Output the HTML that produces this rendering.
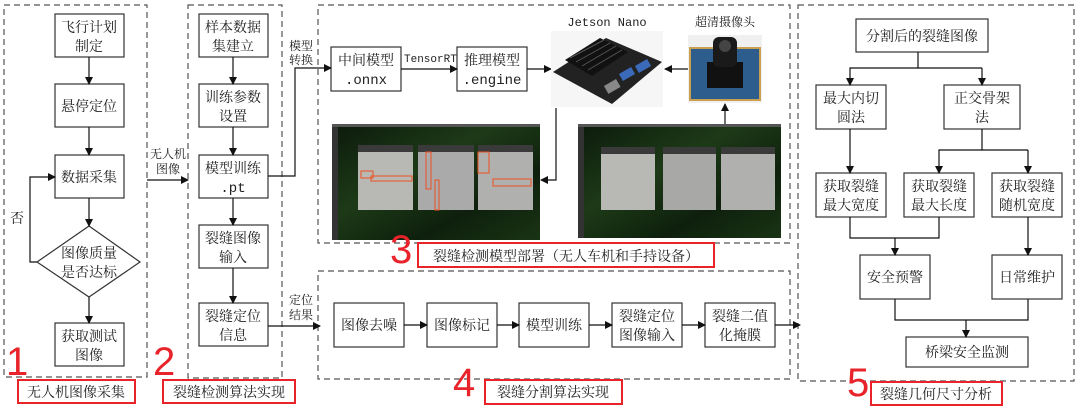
<!DOCTYPE html>
<html><head><meta charset="utf-8"><style>
body{margin:0;background:#fff}
svg{display:block}
text{font-family:"Liberation Serif","Noto Serif CJK SC","Noto Sans CJK SC",serif;font-size:14px;fill:#222}
.m{font-family:"Liberation Mono","Noto Sans CJK SC",monospace}
.r{fill:#e8232a;font-family:"Liberation Sans",sans-serif;font-size:40px}
</style></head><body>
<svg width="1080" height="410" viewBox="0 0 1080 410" xmlns="http://www.w3.org/2000/svg">
<defs><marker id="a" markerWidth="8" markerHeight="8" refX="7" refY="4" orient="auto" markerUnits="userSpaceOnUse"><path d="M0,0 L8,4 L0,8 z" fill="#111"/></marker>
<linearGradient id="g" x1="0" y1="0" x2="1" y2="1"><stop offset="0" stop-color="#0c1a0c"/><stop offset="0.4" stop-color="#1d3a17"/><stop offset="0.7" stop-color="#0e200d"/><stop offset="1" stop-color="#1a3314"/></linearGradient></defs>
<g fill="none" stroke="#555" stroke-width="1.2" stroke-dasharray="6,4">
<rect x="4" y="5" width="143" height="372"/>
<rect x="188" y="5" width="94" height="373"/>
<rect x="318" y="5" width="472" height="238"/>
<rect x="318" y="271" width="472" height="108"/>
<rect x="798" y="5" width="276" height="376"/>
</g>
<g fill="#fff" stroke="#333" stroke-width="1.2">
<rect x="55" y="14" width="69" height="43"/><rect x="55" y="84" width="69" height="43"/><rect x="55" y="155" width="69" height="43"/>
<polygon points="89,226 140,262 89,297 37,262"/><rect x="55" y="323" width="69" height="43"/>
<rect x="199" y="14" width="69" height="43"/><rect x="199" y="84" width="69" height="43"/><rect x="199" y="155" width="69" height="43"/><rect x="199" y="225" width="69" height="43"/><rect x="199" y="303" width="69" height="43"/>
<rect x="331" y="47" width="70" height="44"/><rect x="457" y="47" width="70" height="44"/>
<rect x="334" y="303" width="70" height="44"/><rect x="427" y="303" width="70" height="44"/><rect x="519" y="303" width="70" height="44"/><rect x="612" y="303" width="70" height="44"/><rect x="705" y="303" width="70" height="44"/>
<rect x="856" y="19" width="132" height="33"/><rect x="816" y="85" width="70" height="44"/><rect x="944" y="85" width="76" height="44"/>
<rect x="816" y="173" width="70" height="44"/><rect x="904" y="173" width="70" height="44"/><rect x="992" y="173" width="70" height="44"/>
<rect x="860" y="255" width="70" height="44"/><rect x="992" y="255" width="70" height="44"/><rect x="906" y="337" width="122" height="30"/>
</g>
<g fill="none" stroke="#e8232a" stroke-width="2">
<rect x="18" y="380" width="117" height="23"/><rect x="163" y="380" width="132" height="23"/><rect x="418" y="243" width="296" height="24"/><rect x="485" y="380" width="137" height="24"/><rect x="871" y="382" width="131" height="23"/>
</g>
<g fill="none" stroke="#111" stroke-width="1.2">
<path d="M850,217V238H939V217"/><path d="M895,299V320H1028V299"/><path d="M918,52V68H982"/><path d="M982,129V150H1028"/>
</g>
<g fill="none" stroke="#111" stroke-width="1.2" marker-end="url(#a)">
<path d="M89,57V84"/><path d="M89,127V155"/><path d="M89,198V226"/><path d="M89,297V323"/><path d="M37,262H30V177H55"/>
<path d="M233,57V84"/><path d="M233,127V155"/><path d="M233,198V225"/><path d="M233,268V303"/>
<path d="M147,180H188"/><path d="M268,176H295V68H331"/><path d="M268,326H320"/>
<path d="M401,69H457"/><path d="M527,69H551"/><path d="M688,69H665"/><path d="M556,108V180H541"/><path d="M725,124V104"/>
<path d="M404,325H427"/><path d="M497,325H519"/><path d="M589,325H612"/><path d="M682,325H705"/><path d="M775,325H800"/>
<path d="M918,68H850V85"/><path d="M982,68V85"/><path d="M850,129V173"/><path d="M982,150H939V173"/><path d="M1028,150V173"/>
<path d="M895,238V255"/><path d="M1028,217V255"/><path d="M966,320V337"/>
</g>
<!-- Jetson -->
<rect x="551" y="31" width="112" height="76" fill="#f6f6f6"/>
<polygon points="553,72 606,38 662,62 612,104" fill="#222"/>
<polygon points="565,60 600,38 628,52 592,76" fill="#111"/>
<g stroke="#555" stroke-width="1"><path d="M570,58L604,40"/><path d="M576,62L610,43"/><path d="M582,66L616,46"/><path d="M588,70L622,50"/></g>
<rect x="620" y="70" width="14" height="8" fill="#3a6ab8" transform="rotate(-30 627 74)"/><rect x="636" y="62" width="14" height="8" fill="#3a6ab8" transform="rotate(-30 643 66)"/><rect x="605" y="82" width="14" height="9" fill="#888" transform="rotate(-30 612 86)"/>
<!-- Camera -->
<rect x="688" y="35" width="74" height="68" fill="#f0f0f0"/>
<rect x="690" y="48" width="70" height="52" fill="#2c5d8c" stroke="#c8a050" stroke-width="2"/>
<rect x="707" y="62" width="36" height="26" fill="#111"/><rect x="713" y="37" width="24" height="30" rx="6" fill="#1a1a1a"/><circle cx="725" cy="46" r="6" fill="#444"/>
<!-- screenshots -->
<rect x="332" y="124" width="208" height="116" fill="url(#g)"/><rect x="332" y="124" width="208" height="3" fill="#555"/><rect x="332" y="127" width="6" height="113" fill="#333"/>
<rect x="358" y="145" width="55" height="65" fill="#b8b8b4"/><rect x="418" y="145" width="56" height="65" fill="#aaa"/><rect x="478" y="145" width="55" height="65" fill="#b0b0ae"/>
<g fill="#3a3a3a"><rect x="358" y="145" width="55" height="7"/><rect x="418" y="145" width="56" height="7"/><rect x="478" y="145" width="55" height="7"/></g>
<g fill="none" stroke="#f05020" stroke-width="1"><rect x="361" y="171" width="12" height="7"/><rect x="371" y="176" width="41" height="5"/><rect x="426" y="152" width="5" height="37"/><rect x="435" y="180" width="4" height="30"/><rect x="478" y="152" width="11" height="21"/><rect x="493" y="179" width="38" height="7"/></g>
<rect x="578" y="124" width="203" height="114" fill="url(#g)"/><rect x="578" y="124" width="203" height="3" fill="#555"/><rect x="578" y="127" width="6" height="111" fill="#333"/>
<rect x="601" y="147" width="54" height="63" fill="#b8b8b4"/><rect x="663" y="147" width="53" height="63" fill="#a8a8a6"/><rect x="721" y="147" width="54" height="63" fill="#b0b0ae"/>
<g fill="#3a3a3a"><rect x="601" y="147" width="54" height="7"/><rect x="663" y="147" width="53" height="7"/><rect x="721" y="147" width="54" height="7"/></g>
<!-- text -->
<g text-anchor="middle">
<text x="89" y="32">飞行计划</text><text x="89" y="51">制定</text><text x="89" y="111">悬停定位</text><text x="89" y="182">数据采集</text>
<text x="89" y="258">图像质量</text><text x="89" y="277">是否达标</text><text x="89" y="341">获取测试</text><text x="89" y="360">图像</text>
<text x="233" y="32">样本数据</text><text x="233" y="51">集建立</text><text x="233" y="102">训练参数</text><text x="233" y="121">设置</text>
<text x="233" y="173">模型训练</text><text x="233" y="192" class="m">.pt</text><text x="233" y="243">裂缝图像</text><text x="233" y="262">输入</text>
<text x="233" y="321">裂缝定位</text><text x="233" y="340">信息</text>
<text x="366" y="65">中间模型</text><text x="366" y="84" class="m">.onnx</text><text x="492" y="65">推理模型</text><text x="492" y="84" class="m">.engine</text>
<text x="369" y="330">图像去噪</text><text x="462" y="330">图像标记</text><text x="554" y="330">模型训练</text>
<text x="647" y="321">裂缝定位</text><text x="647" y="340">图像输入</text><text x="740" y="321">裂缝二值</text><text x="740" y="340">化掩膜</text>
<text x="922" y="41">分割后的裂缝图像</text><text x="851" y="103">最大内切</text><text x="851" y="122">圆法</text><text x="982" y="103">正交骨架</text><text x="982" y="122">法</text>
<text x="851" y="191">获取裂缝</text><text x="851" y="210">最大宽度</text><text x="939" y="191">获取裂缝</text><text x="939" y="210">最大长度</text><text x="1027" y="191">获取裂缝</text><text x="1027" y="210">随机宽度</text>
<text x="895" y="282">安全预警</text><text x="1027" y="282">日常维护</text><text x="967" y="357">桥梁安全监测</text>
<text x="76" y="397">无人机图像采集</text><text x="229" y="397">裂缝检测算法实现</text><text x="566" y="261">裂缝检测模型部署（无人车机和手持设备）</text><text x="553" y="397">裂缝分割算法实现</text><text x="936" y="399">裂缝几何尺寸分析</text>
<text x="607" y="26" class="m" style="font-size:12px">Jetson Nano</text><text x="725" y="26" style="font-size:12px">超清摄像头</text>
</g>
<text x="10" y="223">否</text>
<text x="150" y="158" style="font-size:12px">无人机</text><text x="156" y="173" style="font-size:12px">图像</text>
<text x="289" y="50" style="font-size:12px">模型</text><text x="289" y="64" style="font-size:12px">转换</text>
<text x="289" y="304" style="font-size:12px">定位</text><text x="289" y="319" style="font-size:12px">结果</text>
<text x="404" y="62" class="m" style="font-size:11px">TensorRT</text>
<text x="6" y="375" class="r">1</text><text x="153" y="375" class="r">2</text><text x="390" y="263" class="r">3</text><text x="453" y="396" class="r">4</text><text x="847" y="396" class="r">5</text>
</svg>
</body></html>
